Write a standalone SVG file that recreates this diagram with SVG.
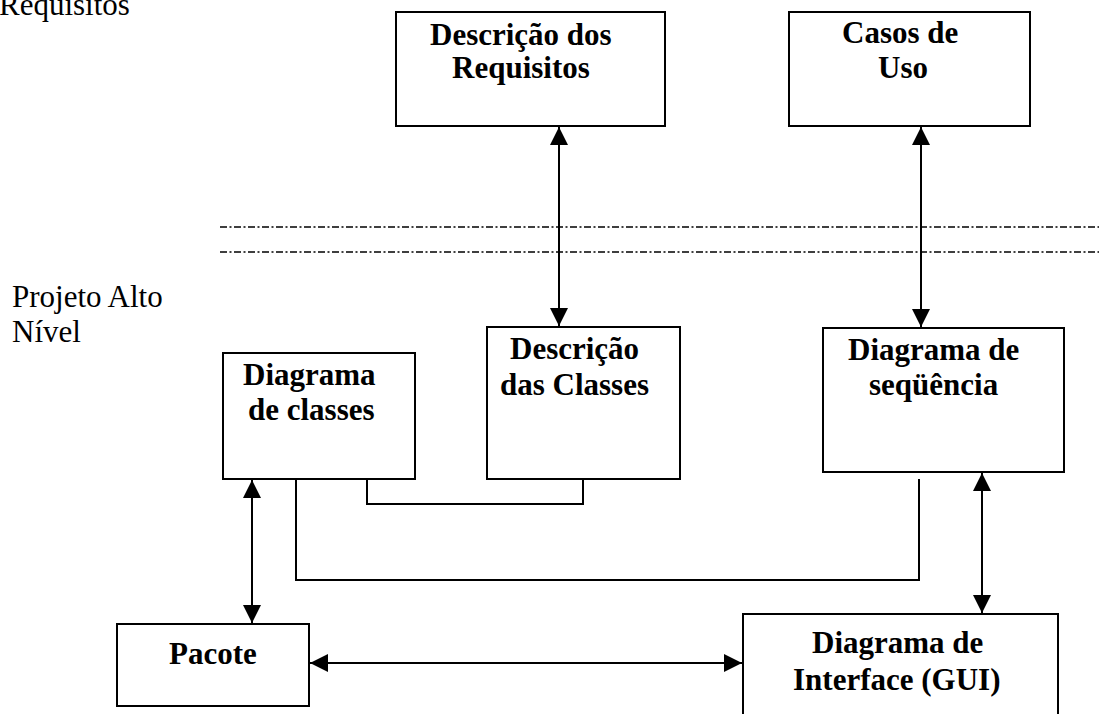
<svg xmlns="http://www.w3.org/2000/svg" width="1099" height="714" viewBox="0 0 1099 714">
<defs>
<style>
.box{fill:#fff;stroke:#000;stroke-width:2}
.t{font-family:"Liberation Serif","Times New Roman",serif;font-size:31px;font-weight:bold;fill:#000}
.r{font-family:"Liberation Serif","Times New Roman",serif;font-size:31px;fill:#000}
.c{fill:none;stroke:#000;stroke-width:2}
.dd{fill:none;stroke:#000;stroke-width:1.3;stroke-dasharray:7 2.5 2 2.5}
</style>
<marker id="ah" viewBox="0 0 18 18" refX="18" refY="9" markerWidth="18" markerHeight="18" markerUnits="userSpaceOnUse" orient="auto-start-reverse">
<path d="M0,0 L18,9 L0,18 z" fill="#000"/>
</marker>
</defs>
<rect width="1099" height="714" fill="#fff"/>
<text class="r" x="-1" y="15">Requisitos</text>
<text class="r" x="12" y="307">Projeto Alto</text>
<text class="r" x="12" y="342">Nível</text>
<g id="separators">
<line class="dd" x1="220" y1="227" x2="1099" y2="227"/>
<line class="dd" x1="220" y1="252" x2="1099" y2="252"/>
</g>
<g id="connectors">
<line class="c" x1="559" y1="127" x2="559" y2="326" marker-start="url(#ah)" marker-end="url(#ah)"/>
<line class="c" x1="921" y1="127" x2="921" y2="327" marker-start="url(#ah)" marker-end="url(#ah)"/>
<line class="c" x1="252" y1="480" x2="252" y2="623" marker-start="url(#ah)" marker-end="url(#ah)"/>
<line class="c" x1="982" y1="473" x2="982" y2="613" marker-start="url(#ah)" marker-end="url(#ah)"/>
<line class="c" x1="310" y1="663" x2="742" y2="663" marker-start="url(#ah)" marker-end="url(#ah)"/>
<polyline class="c" points="367,479 367,504 583,504 583,479"/>
<polyline class="c" points="296,479 296,580 919,580 919,479"/>
</g>
<g id="desc-requisitos">
<rect class="box" x="396" y="12" width="269" height="114"/>
<text class="t" x="430" y="45">Descrição dos</text>
<text class="t" x="452" y="78">Requisitos</text>
</g>
<g id="casos-uso">
<rect class="box" x="789" y="12" width="241" height="114"/>
<text class="t" x="842" y="43">Casos de</text>
<text class="t" x="878" y="78">Uso</text>
</g>
<g id="diagrama-classes">
<rect class="box" x="223" y="353" width="192" height="126"/>
<text class="t" x="243" y="385">Diagrama</text>
<text class="t" x="248" y="420">de classes</text>
</g>
<g id="desc-classes">
<rect class="box" x="487" y="327" width="193" height="152"/>
<text class="t" x="510" y="359">Descrição</text>
<text class="t" x="500" y="395">das Classes</text>
</g>
<g id="diagrama-sequencia">
<rect class="box" x="823" y="328" width="241" height="144"/>
<text class="t" x="848" y="360">Diagrama de</text>
<text class="t" x="869" y="395">seqüência</text>
</g>
<g id="pacote">
<rect class="box" x="117" y="624" width="192" height="82"/>
<text class="t" x="169" y="664">Pacote</text>
</g>
<g id="diagrama-interface">
<rect class="box" x="743" y="614" width="315" height="110"/>
<text class="t" x="812" y="653">Diagrama de</text>
<text class="t" x="793" y="690">Interface (GUI)</text>
</g>
</svg>
